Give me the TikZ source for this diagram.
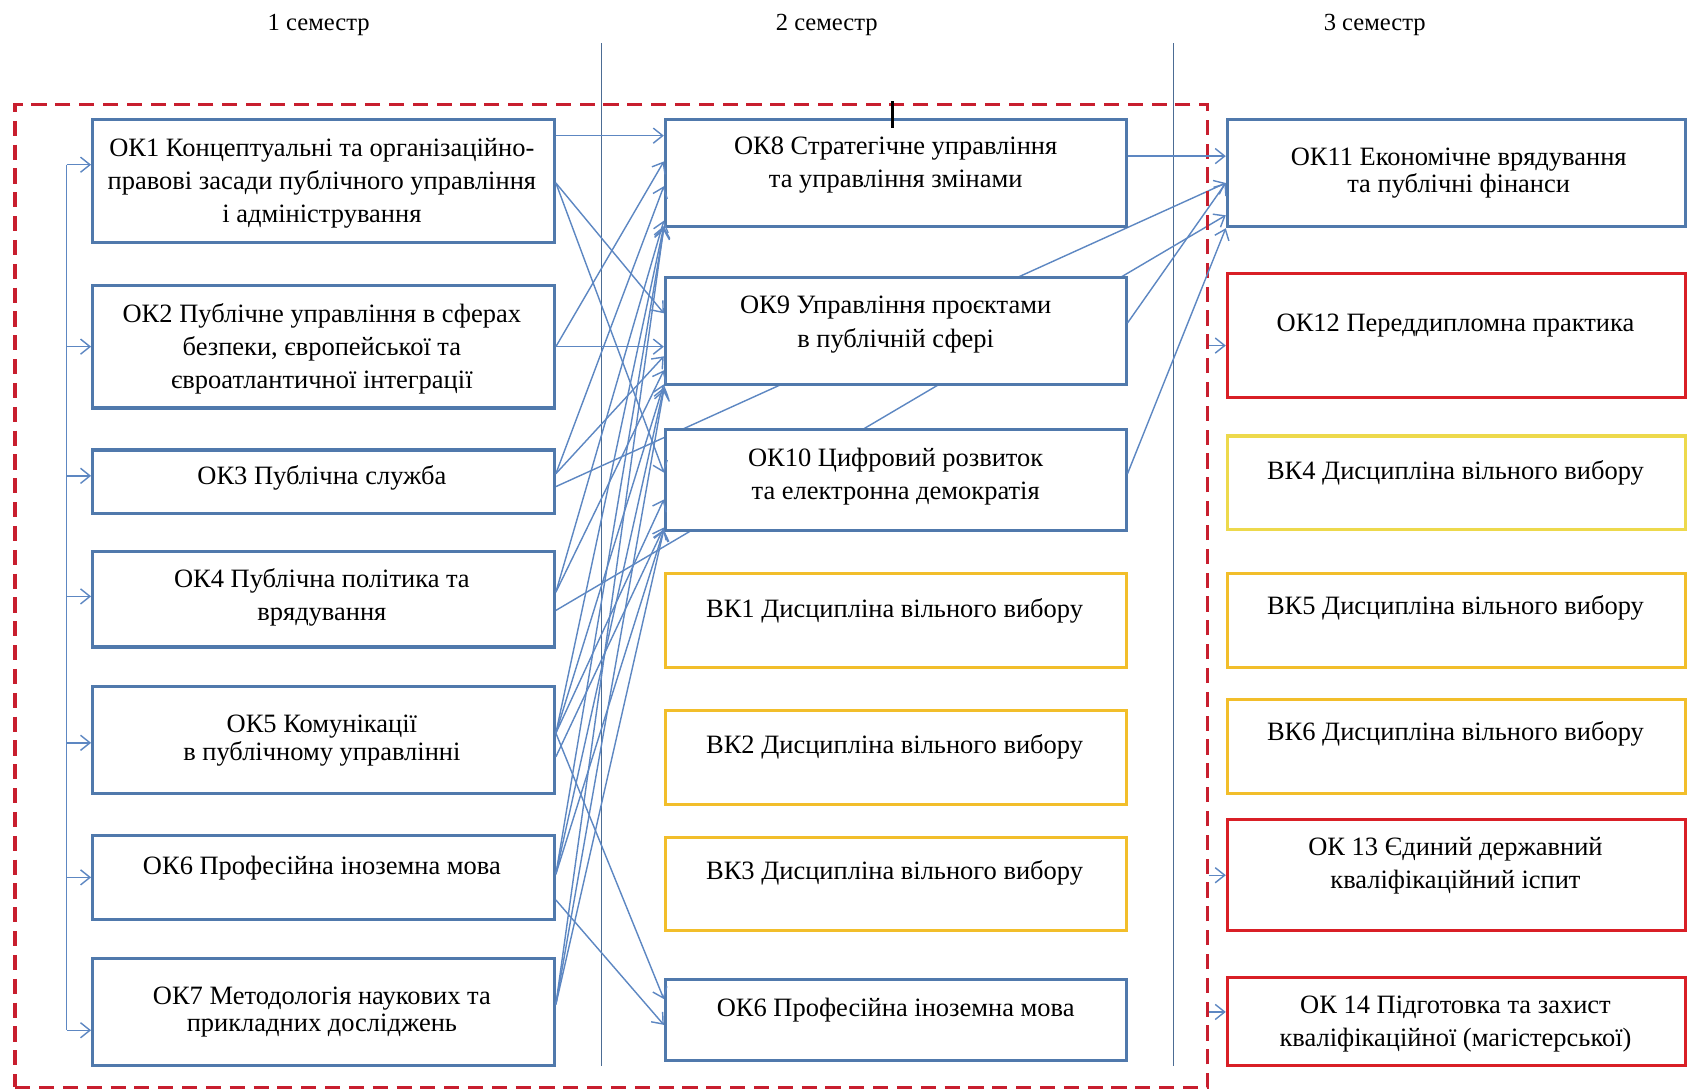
\documentclass[tikz,border=0pt]{standalone}
\usepackage{fontspec}
\setmainfont{Liberation Serif}
\usetikzlibrary{arrows.meta}
\pgfdeclarelayer{bg}
\pgfsetlayers{bg,main}
\definecolor{boxblue}{HTML}{5079AC}
\definecolor{lineblue}{HTML}{5D87C2}
\definecolor{boxgold}{HTML}{F2BE2A}
\definecolor{boxyellow}{HTML}{EDD94C}
\definecolor{boxred}{HTML}{D91F26}
\definecolor{dashred}{HTML}{C81E2E}
\definecolor{divider}{HTML}{4C6C94}
\begin{document}
\begin{tikzpicture}[x=0.02cm,y=-0.02cm,
  box/.style={draw=boxblue, line width=1.6pt, fill=white, inner sep=0pt},
  goldbox/.style={box, draw=boxgold},
  yelbox/.style={box, draw=boxyellow},
  redbox/.style={box, draw=boxred},
  c1/.style={minimum width=8.58cm},
  c2/.style={minimum width=8.56cm},
  c3/.style={minimum width=8.52cm},
  txt/.style={align=center, inner sep=0pt, font=\fontsize{14}{17.5}\selectfont},
  txtt/.style={align=center, inner sep=0pt, font=\fontsize{14}{14.5}\selectfont},
  conn/.style={draw=lineblue, line width=0.75pt, -{Straight Barb[length=5pt,width=8pt]}},
  plain/.style={draw=lineblue, line width=0.75pt},
  divline/.style={draw=divider, line width=0.7pt},
  frame/.style={draw=dashred, line width=1.8pt, dash pattern=on 8pt off 4.6pt, inner sep=0pt},
  head/.style={inner sep=0pt, font=\fontsize{13}{15}\selectfont}]
\useasboundingbox (0,0) rectangle (1568,1013);

% semester headings
\node[head] (s1) at (296,23) {1 семестр};
\node[head] (s2) at (768,23) {2 семестр};
\node[head] (s3) at (1277,23) {3 семестр};

% dividers
\coordinate (d1t) at (559,40); \coordinate (d1b) at (559,990);
\coordinate (d2t) at (1090,40); \coordinate (d2b) at (1090,990);
\begin{pgfonlayer}{bg}
\draw[divline] (d1t) -- (d1b);
\draw[divline] (d2t) -- (d2b);
\end{pgfonlayer}

% column 1
\node[box,c1,minimum height=2.28cm] (ok1) at (300.5,168) {};
\node[box,c1,minimum height=2.28cm] (ok2) at (300.5,322) {};
\node[box,c1,minimum height=1.18cm] (ok3) at (300.5,447.5) {};
\node[box,c1,minimum height=1.78cm] (ok4) at (300.5,556.5) {};
\node[box,c1,minimum height=1.98cm] (ok5) at (300.5,687.5) {};
\node[box,c1,minimum height=1.56cm] (ok6) at (300.5,815) {};
\node[box,c1,minimum height=2.00cm] (ok7) at (300.5,940) {};
\node[txt] (ok1t) at (299,170) {ОК1 Концептуальні та організаційно-\\правові засади публічного управління\\і адміністрування};
\node[txt] (ok2t) at (299,324) {ОК2 Публічне управління в сферах\\безпеки, європейської та\\євроатлантичної інтеграції};
\node[txt] (ok3t) at (299,444) {ОК3 Публічна служба};
\node[txt] (ok4t) at (299,555) {ОК4 Публічна політика та\\врядування};
\node[txtt] (ok5t) at (299,688) {ОК5 Комунікації\\в публічному управлінні};
\node[txt] (ok6t) at (299,806) {ОК6 Професійна іноземна мова};
\node[txtt] (ok7t) at (299,940) {ОК7 Методологія наукових та\\прикладних досліджень};

% column 2
\node[box,c2,minimum height=1.98cm] (ok8) at (832,160.5) {};
\node[box,c2,minimum height=1.98cm] (ok9) at (832,307.5) {};
\node[box,c2,minimum height=1.88cm] (ok10) at (832,446) {};
\node[goldbox,c2,minimum height=1.74cm] (vk1) at (832,576.5) {};
\node[goldbox,c2,minimum height=1.74cm] (vk2) at (832,703.5) {};
\node[goldbox,c2,minimum height=1.72cm] (vk3) at (832,821) {};
\node[box,c2,minimum height=1.50cm] (ok6b) at (832,947.5) {};
\node[txt] (ok8t) at (832,153.5) {ОК8 Стратегічне управління\\та управління змінами};
\node[txt] (ok9t) at (832,301.5) {ОК9 Управління проєктами\\в публічній сфері};
\node[txt] (ok10t) at (832,442.5) {ОК10 Цифровий розвиток\\та електронна демократія};
\node[txt] (vk1t) at (831,567) {ВК1 Дисципліна вільного вибору};
\node[txt] (vk2t) at (831,694) {ВК2 Дисципліна вільного вибору};
\node[txt] (vk3t) at (831,811) {ВК3 Дисципліна вільного вибору};
\node[txt] (ok6bt) at (832,938) {ОК6 Професійна іноземна мова};

% column 3
\node[box,c3,minimum height=1.98cm] (ok11) at (1353,160.5) {};
\node[redbox,c3,minimum height=2.30cm] (ok12) at (1353,311.5) {};
\node[yelbox,c3,minimum height=1.74cm] (vk4) at (1353,448.5) {};
\node[goldbox,c3,minimum height=1.74cm] (vk5) at (1353,576.5) {};
\node[goldbox,c3,minimum height=1.74cm] (vk6) at (1353,693.5) {};
\node[redbox,c3,minimum height=2.06cm] (ok13) at (1353,812.5) {};
\node[redbox,c3,minimum height=1.64cm] (ok14) at (1353,949) {};
\node[txtt] (ok11t) at (1355,161) {ОК11 Економічне врядування\\та публічні фінанси};
\node[txt] (ok12t) at (1352,302) {ОК12 Переддипломна практика};
\node[txt] (vk4t) at (1352,439) {ВК4 Дисципліна вільного вибору};
\node[txt] (vk5t) at (1352,565) {ВК5 Дисципліна вільного вибору};
\node[txt] (vk6t) at (1352,682) {ВК6 Дисципліна вільного вибору};
\node[txt] (ok13t) at (1352,804) {ОК 13 Єдиний державний\\кваліфікаційний іспит};
\node[txt] (ok14t) at (1352,951) {ОК 14 Підготовка та захист\\кваліфікаційної (магістерської)};

% dashed frame
\node[frame, minimum width=22.16cm, minimum height=18.26cm] (frame) at (568,553.5) {};
\draw[black, line width=1.6pt] (829,94) -- (829,119);

% long lines passing behind column 2 boxes
\begin{pgfonlayer}{bg}
\draw[conn] (ok3.east |- 0,452) -- (ok11.west |- 0,170);
\draw[conn] (ok4.east |- 0,567) -- (ok11.west |- 0,200);
\end{pgfonlayer}

% feeder bus on the left
\foreach \n/\y in {ok1/153,ok2/322,ok3/442,ok4/554,ok5/690,ok6/815,ok7/957}{
  \coordinate (bus\n) at (62,\y);
  \draw[conn] (bus\n) -- (\n.west |- bus\n);
}
\draw[plain] (busok1) -- (busok7);

% column 1 -> column 2
\foreach \s/\sy/\t/\ty in {
  ok1/126/ok8/126, ok1/170/ok9/291, ok1/170/ok10/439,
  ok2/322/ok9/322, ok2/322/ok8/150,
  ok3/440/ok8/173, ok3/440/ok9/331,
  ok4/550/ok8/205, ok4/550/ok9/344,
  ok5/681/ok8/210, ok5/681/ok9/357, ok5/681/ok10/464, ok5/681/ok6b/928, ok5/703/ok10/490,
  ok6/812/ok8/212, ok6/812/ok9/360, ok6/812/ok10/492, ok6/836/ok6b/952,
  ok7/933/ok8/211, ok7/933/ok9/362, ok7/933/ok10/492}{
  \draw[conn] (\s.east |- 0,\sy) -- (\t.west |- 0,\ty);
}

% column 2 -> column 3
\draw[conn] (ok8.east |- 0,145) -- (ok11.west |- 0,145);
\draw[conn] (ok9.east |- 0,300) -- (ok11.west |- 0,170);
\draw[conn] (ok10.east |- 0,440) -- (ok11.west |- 0,212);

% frame -> column 3
\draw[conn] (frame.east |- 0,321) -- (ok12.west |- 0,321);
\draw[conn] (frame.east |- 0,813) -- (ok13.west |- 0,813);
\draw[conn] (frame.east |- 0,940) -- (ok14.west |- 0,940);
\end{tikzpicture}
\end{document}
